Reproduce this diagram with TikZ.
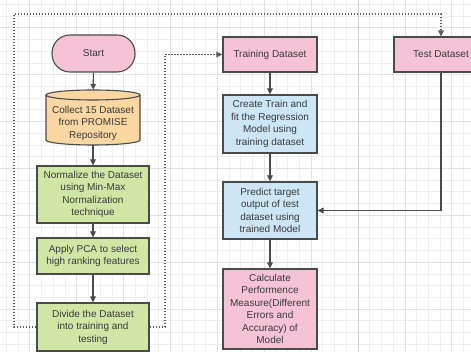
\documentclass[tikz,border=0pt]{standalone}
\usepackage{fontspec}
\setmainfont{Liberation Sans}
\usetikzlibrary{arrows.meta}
\definecolor{pinkf}{HTML}{F5C3D5}
\definecolor{orangef}{HTML}{FAD7A0}
\definecolor{greenf}{HTML}{D0E6A5}
\definecolor{bluef}{HTML}{CDE6F5}
\definecolor{bord}{HTML}{4A4A4A}
\definecolor{txt}{HTML}{3A3A3A}
\definecolor{gridminor}{HTML}{EFEFEF}
\definecolor{gridmajor}{HTML}{E2E2E2}
\definecolor{lane}{HTML}{C8D2D6}
\tikzset{
  boxbase/.style={draw=bord, line width=1.1pt, text=txt, align=center,
    font=\fontsize{10}{12.5}\selectfont, inner sep=1pt},
  pinkbox/.style={boxbase, fill=pinkf},
  greenbox/.style={boxbase, fill=greenf},
  bluebox/.style={boxbase, fill=bluef},
  conn/.style={draw=bord, line width=1.1pt, -{Triangle[length=6pt,width=5.5pt]}},
  dotconn/.style={draw=bord!90, line width=1.3pt, dash pattern=on 1.6pt off 1.4pt,
    -{Triangle[length=6pt,width=5.5pt]}},
}
\begin{document}
\begin{tikzpicture}[x=1pt,y=1pt]
\useasboundingbox (0,0) rectangle (471,352);
\fill[white] (0,0) rectangle (471,352);
\begin{scope}
\clip (0,0) rectangle (471,352);
% minor grid
\foreach \i in {0,...,41} {
  \draw[gridminor, line width=0.5pt] ({6.3+11.72*\i},0) -- ({6.3+11.72*\i},352);
}
\foreach \i in {0,...,31} {
  \draw[gridminor, line width=0.5pt] (0,{7.9+11.72*\i}) -- (471,{7.9+11.72*\i});
}
% major grid
\foreach \i in {0,...,10} {
  \draw[gridmajor, line width=0.7pt] ({29.7+46.9*\i},0) -- ({29.7+46.9*\i},352);
}
\foreach \i in {0,...,8} {
  \draw[gridmajor, line width=0.7pt] (0,{-3.8+46.9*\i}) -- (471,{-3.8+46.9*\i});
}
% lane separator
\draw[lane, line width=1pt] (358,0) -- (358,352);

% cylinder shape
\draw[bord, line width=1.1pt, fill=orangef]
  (46,257) -- (46,212) arc[start angle=180, end angle=360, x radius=47, y radius=5]
  -- (140,257) arc[start angle=0, end angle=180, x radius=47, y radius=5] -- cycle;
\draw[bord, line width=1.1pt]
  (46,257) arc[start angle=180, end angle=360, x radius=47, y radius=5];

% nodes
\node[pinkbox, rounded corners=18pt, minimum width=83pt, minimum height=37pt]
  (start) at (93.5,298.5) {Start};
\node[draw=none, inner sep=0pt, minimum width=94pt, minimum height=55pt]
  (collect) at (93,234.5) {};
\node[boxbase, draw=none] (collecttxt) at (93,229) {Collect 15 Dataset\\from PROMISE\\Repository};
\node[greenbox, minimum width=112pt, minimum height=57pt]
  (norm) at (93,157.5) {Normalize the Dataset\\using Min-Max\\Normalization\\technique};
\node[greenbox, minimum width=112pt, minimum height=36pt]
  (pca) at (93,96) {Apply PCA to select\\high ranking features};
\node[greenbox, minimum width=112pt, minimum height=48pt]
  (divide) at (93,25) {Divide the Dataset\\into training and\\testing};
\node[pinkbox, minimum width=94pt, minimum height=35pt]
  (train) at (270,297.5) {Training Dataset};
\node[bluebox, minimum width=94pt, minimum height=58pt]
  (create) at (270,228) {Create Train and\\fit the Regression\\Model using\\training dataset};
\node[bluebox, minimum width=94pt, minimum height=57pt]
  (predict) at (270,141.5) {Predict target\\output of test\\dataset using\\trained Model};
\node[pinkbox, minimum width=94pt, minimum height=80pt]
  (calc) at (270,43) {Calculate\\Performence\\Measure(Different\\Errors and\\Accuracy) of\\Model};
\node[pinkbox, minimum width=94pt, minimum height=35pt]
  (test) at (441,297.5) {Test Dataset};

% coordinates for dotted routes
\coordinate (dl1) at (14,25);
\coordinate (dl2) at (14,338);
\coordinate (dl3) at (441,338);
\coordinate (dr1) at (165,25);
\coordinate (dr2) at (165,297.5);
\coordinate (tp) at (441,141.5);

% connectors
\draw[conn] (start) -- (collect);
\draw[conn] (collect) -- (norm);
\draw[conn] (norm) -- (pca);
\draw[conn] (pca) -- (divide);
\draw[conn] (train) -- (create);
\draw[conn] (create) -- (predict);
\draw[conn] (predict) -- (calc);
\draw[conn] (test.south) -- (tp) -- (predict.east);
\draw[dotconn] (divide.west) -- (dl1) -- (dl2) -- (dl3) -- (test.north);
\draw[dotconn] (divide.east) -- (dr1) -- (dr2) -- (train.west);
\end{scope}
\end{tikzpicture}
\end{document}
